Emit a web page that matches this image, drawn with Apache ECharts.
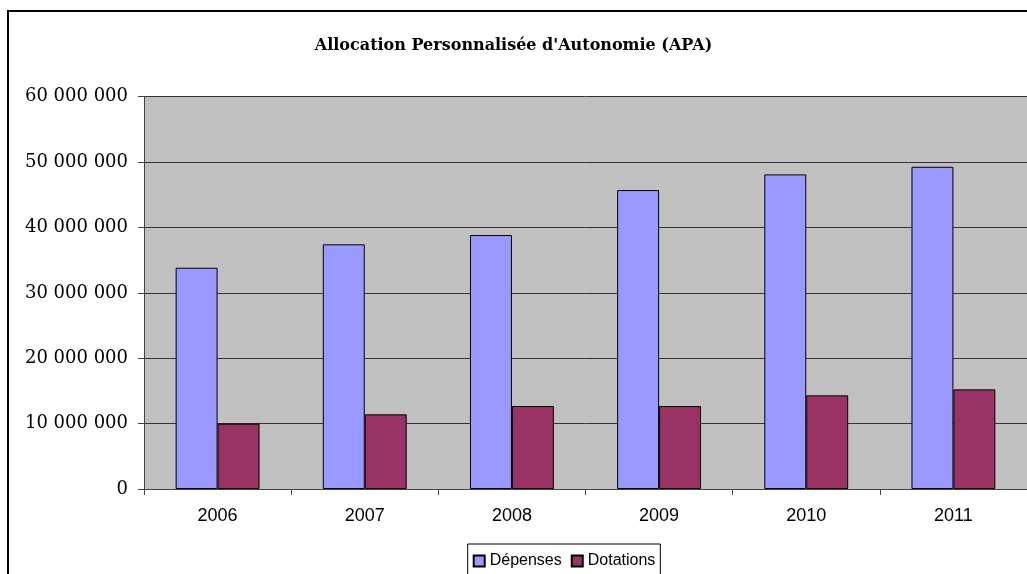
<!DOCTYPE html>
<html><head><meta charset="utf-8">
<script src="https://cdn.jsdelivr.net/npm/echarts@6/dist/echarts.min.js"></script>
<style>html,body{margin:0;padding:0;background:#fff}#c{width:1027px;height:574px}</style>
</head><body><div id="c"></div>
<script>
var categories = ['2006','2007','2008','2009','2010','2011'];
var depenses = [33840000, 37420000, 38840000, 45720000, 48120000, 49280000];
var dotations = [10000000, 11420000, 12690000, 12690000, 14320000, 15240000];
var seriesNames = ['Dépenses','Dotations'];
var titleText = "Allocation Personnalisée d'Autonomie (APA)";

var chart = echarts.init(document.getElementById('c'), null, {renderer:'canvas'});
function fmt(v){ return String(v).replace(/\B(?=(\d{3})+(?!\d))/g, ' '); }
chart.setOption({
  animation:false,
  backgroundColor:'#fff',
  title:{text:titleText,left:'center',top:33,textStyle:{fontFamily:'DejaVu Serif',fontWeight:'bold',fontSize:16,color:'#000'}},
  graphic:[{type:'rect',shape:{x:8,y:11,width:1200,height:800},style:{fill:'none',stroke:'#000',lineWidth:2},z:100}],
  grid:{left:144,top:96.7,bottom:85,right:-3.4,show:true,backgroundColor:'#c0c0c0',borderWidth:0,containLabel:false},
  legend:{data:seriesNames,left:467.7,top:544,orient:'horizontal',borderColor:'#000',borderWidth:1,padding:[6,5,6,5],
    itemWidth:11,itemHeight:11,itemGap:9,icon:'rect',
    textStyle:{fontFamily:'Liberation Sans',fontSize:16,color:'#000',lineHeight:22}},
  xAxis:{type:'category',data:categories,boundaryGap:true,
    axisLine:{lineStyle:{color:'#444',width:1}},
    axisTick:{show:true,length:6,alignWithLabel:false,lineStyle:{color:'#444'}},
    axisLabel:{fontFamily:'Liberation Sans',fontSize:18,color:'#000',margin:18}},
  yAxis:{type:'value',min:0,max:60000000,interval:10000000,
    axisLine:{show:true,lineStyle:{color:'#444',width:1}},
    axisTick:{show:true,length:6,lineStyle:{color:'#444'}},
    splitLine:{show:true,lineStyle:{color:'#333',width:1}},
    axisLabel:{fontFamily:'DejaVu Serif',fontSize:18,color:'#000',margin:16,formatter:fmt}},
  series:[
    {name:seriesNames[0],type:'bar',data:depenses,barGap:'0%',barCategoryGap:'43%',
      itemStyle:{color:'#9999ff',borderColor:'#000',borderWidth:1}},
    {name:seriesNames[1],type:'bar',data:dotations,barGap:'0%',barCategoryGap:'43%',
      itemStyle:{color:'#993366',borderColor:'#000',borderWidth:1}}
  ]
});
</script></body></html>
